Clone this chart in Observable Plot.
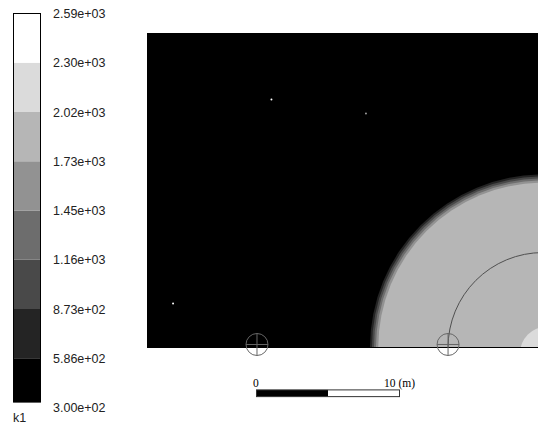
<!DOCTYPE html>
<html>
<head>
<meta charset="utf-8">
<script src="https://cdn.jsdelivr.net/npm/d3@7"></script>
<script src="https://cdn.jsdelivr.net/npm/@observablehq/plot@0.6"></script>
<style>
  html, body { margin: 0; padding: 0; background: #fff; }
  #wrap { position: relative; width: 538px; height: 428px; overflow: hidden; }
  #wrap > svg { position: absolute; left: 0; top: 0; }
  #cbar text.lab { letter-spacing: 0.6px; }
  #cbar text.var { letter-spacing: 2px; }
</style>
</head>
<body>
<div id="wrap"></div>
<script>
// ---- colour bar (contour levels of k1) ----
const levelLabels = ["3.00e+02","5.86e+02","8.73e+02","1.16e+03","1.45e+03","1.73e+03","2.02e+03","2.30e+03","2.59e+03"];
const levelValues = [300, 586, 873, 1160, 1450, 1730, 2020, 2300, 2590];
const bandGrays   = ["#000000","#242424","#494949","#6d6d6d","#929292","#b6b6b6","#dbdbdb","#ffffff"];
const variableName = "k1";

// ---- contour field (metres): concentric bands around a centre ----
const ringCenterX = 20.0, ringCenterY = 0.0;
const ringRadius  = [12.1, 11.96, 11.82, 11.68, 11.52];
const ringValue   = [700, 1000, 1300, 1600, 1900];
const spotX = [20.25], spotY = [-0.4], spotRadius = [1.85], spotValue = [2150];
const innerLineRadius = [6.64];
const markerX = [0, 13.36], markerY = [0.21, 0.21];
const speckX = [1.01, 7.62, -5.87], speckY = [17.34, 16.36, 3.08], speckShade = ["#ffffff", "#9a9a9a", "#ffffff"];

// ---- scale bar ----
const scaleBarX1 = [0, 5], scaleBarX2 = [5, 10], scaleBarFill = ["#000000", "#ffffff"];
const scaleBarY = [-3.0, -3.47];
const scaleZeroX = 0, scaleZeroText = "0";
const scaleEndX = 10, scaleEndText = "10 (m)";

const W = 538, H = 428, mL = 147, mR = 0, mT = 33, mB = 81;
const xDomain = [-7.657, 19.685], yDomain = [0, 21.958];
const pxPerM = (W - mL - mR) / (xDomain[1] - xDomain[0]);

const colorScale = {type: "threshold", domain: levelValues.slice(1, -1), range: bandGrays};

const rings = ringRadius.map((r, i) => ({x: ringCenterX, y: ringCenterY, radius: r, value: ringValue[i]}))
  .concat(spotX.map((x, i) => ({x, y: spotY[i], radius: spotRadius[i], value: spotValue[i]})));
const innerLine = innerLineRadius.map(r => ({x: ringCenterX, y: ringCenterY, radius: r}));
const markers = markerX.map((x, i) => ({x, y: markerY[i]}));
const specks = speckX.map((x, i) => ({x, y: speckY[i], c: speckShade[i]}));
const bar = scaleBarX1.map((x1, i) => ({x1, x2: scaleBarX2[i], c: scaleBarFill[i]}));

const crosshair = {
  draw(ctx, size) {
    const r = Math.sqrt(size / Math.PI);
    ctx.moveTo(r, 0);
    ctx.arc(0, 0, r, 0, 2 * Math.PI);
    ctx.moveTo(-r, 0); ctx.lineTo(r, 0);
    ctx.moveTo(0, -r); ctx.lineTo(0, r);
  }
};

const main = Plot.plot({
  width: W, height: H,
  marginLeft: mL, marginRight: mR, marginTop: mT, marginBottom: mB,
  style: {fontFamily: "Liberation Serif", fontSize: "11.5px", background: "white", color: "black"},
  x: {domain: xDomain, axis: null},
  y: {domain: yDomain, axis: null},
  r: {type: "linear", domain: [0, 1], range: [0, pxPerM]},
  color: colorScale,
  marks: [
    Plot.frame({fill: "black", stroke: "black"}),
    Plot.dot(rings, {x: "x", y: "y", r: "radius", fill: "value", clip: true, sort: null}),
    Plot.dot(innerLine, {x: "x", y: "y", r: "radius", fill: "none", stroke: "#505050", strokeWidth: 1, clip: true}),
    Plot.dot(specks, {x: "x", y: "y", r: 1, fill: "c", stroke: null}),
    Plot.ruleY([0], {stroke: "black", strokeWidth: 1}),
    Plot.dot(markers, {x: "x", y: "y", r: 11, symbol: crosshair, fill: "none", stroke: "#666666", strokeWidth: 1}),
    Plot.rect(bar, {x1: "x1", x2: "x2", y1: scaleBarY[0], y2: scaleBarY[1], fill: "c"}),
    Plot.rect([0], {x1: scaleBarX1[0], x2: scaleBarX2[1], y1: scaleBarY[0], y2: scaleBarY[1], fill: "none", stroke: "#333333", strokeWidth: 1}),
    Plot.text([scaleZeroText], {x: scaleZeroX, y: -2.48, textAnchor: "middle", dx: -1, fill: "black"}),
    Plot.text([scaleEndText], {x: scaleEndX, y: -2.48, textAnchor: "start", dx: -16, fill: "black"})
  ]
});
document.getElementById("wrap").appendChild(main);

const bands = bandGrays.map((g, i) => ({y1: i === 0 ? 0.11 : i, y2: i + 1, value: (levelValues[i] + levelValues[i + 1]) / 2}));
const labs = levelLabels.map((t, i) => ({i, t}));

const cbar = Plot.plot({
  width: 130, height: 428,
  marginLeft: 13.5, marginRight: 89.5, marginTop: 13.5, marginBottom: 20.5,
  style: {fontFamily: "Liberation Sans", fontSize: "12.5px", background: "transparent", color: "#222"},
  x: {domain: [0, 1], axis: null},
  y: {domain: [0, 8], axis: null},
  color: colorScale,
  marks: [
    Plot.rect(bands, {x1: 0, x2: 1, y1: "y1", y2: "y2", fill: "value"}),
    Plot.rect([0], {x1: 0, x2: 1, y1: 0.11, y2: 8, fill: "none", stroke: "black", strokeWidth: 1}),
    Plot.text(labs, {x: 1, y: "i", text: "t", dx: 12, textAnchor: "start", fill: "#222", className: "lab"}),
    Plot.text([variableName], {frameAnchor: "bottom-left", dx: -1, dy: 14, textAnchor: "start", fill: "#222", className: "var"})
  ]
});
cbar.id = "cbar";
document.getElementById("wrap").appendChild(cbar);
</script>
</body>
</html>
